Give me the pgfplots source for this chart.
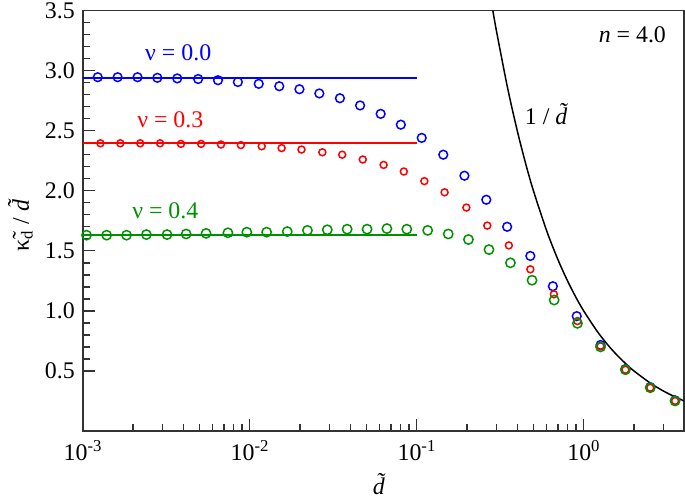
\documentclass[border=0pt]{standalone}
\usepackage{fontspec}
\setmainfont{Liberation Serif}
\usepackage{pgfplots}
\pgfplotsset{compat=1.18}
\usepackage{pgfplotstable}

\definecolor{ggreen}{RGB}{0,145,0}
\newcommand\lbl{\fontsize{24}{27}\selectfont}

% nu = 0.0
\pgfplotstableread{
x y
0.001228 2.945
0.001616 2.945
0.002126 2.945
0.002795 2.940
0.003676 2.935
0.004904 2.930
0.006449 2.920
0.008484 2.905
0.01131 2.890
0.01502 2.870
0.01984 2.845
0.02610 2.810
0.03466 2.770
0.04578 2.710
0.06080 2.640
0.08030 2.550
0.1071 2.440
0.1442 2.300
0.1931 2.125
0.2610 1.925
0.3480 1.700
0.4791 1.457
0.6538 1.205
0.9085 0.956
1.262 0.716
1.778 0.515
2.505 0.365
3.528 0.255
}\nuzero

% nu = 0.3
\pgfplotstableread{
x y
0.001275 2.395
0.001677 2.395
0.002206 2.395
0.002901 2.395
0.003869 2.390
0.005109 2.390
0.006720 2.385
0.008841 2.380
0.01179 2.370
0.01551 2.355
0.02040 2.343
0.02720 2.320
0.03578 2.300
0.04751 2.260
0.06333 2.215
0.08370 2.160
0.1111 2.080
0.1468 1.987
0.1984 1.860
0.2646 1.710
0.3562 1.545
0.4791 1.346
0.6628 1.138
0.9173 0.915
1.262 0.705
1.778 0.510
2.505 0.360
3.528 0.250
}\nuthree

% nu = 0.4
\pgfplotstableread{
x y
0.001052 1.630
0.001389 1.630
0.001827 1.630
0.002404 1.635
0.003193 1.635
0.004159 1.640
0.005470 1.645
0.007396 1.650
0.009597 1.655
0.01262 1.655
0.01677 1.660
0.02215 1.670
0.02912 1.675
0.03831 1.680
0.05040 1.680
0.06628 1.685
0.08718 1.680
0.1163 1.670
0.1544 1.640
0.2040 1.594
0.2708 1.510
0.3641 1.400
0.4904 1.255
0.6655 1.090
0.9173 0.896
1.262 0.700
1.778 0.510
2.505 0.360
3.528 0.250
}\nufour

% 1/d
\pgfplotstableread{
x y
0.2857 3.500
0.30 3.333
0.35 2.857
0.40 2.500
0.45 2.222
0.50 2.000
0.60 1.667
0.70 1.429
0.80 1.250
0.90 1.111
1.00 1.000
1.20 0.833
1.40 0.714
1.60 0.625
1.80 0.556
2.00 0.500
2.50 0.400
3.00 0.333
3.50 0.286
4.00 0.250
}\inv

\begin{document}
\lbl
\begin{tikzpicture}
\begin{axis}[
  width=605pt, height=423pt, scale only axis,
  xmode=log, xmin=1e-3, xmax=4,
  ymin=0, ymax=3.5,
  axis line style={line width=1.6pt, black!80},
  tick pos=left, tick align=inside,
  major tick length=12pt, minor tick length=7pt,
  every tick/.style={line width=1.4pt, black!80},
  xtick={0.001,0.01,0.1,1},
  xticklabels={10\textsuperscript{-3},10\textsuperscript{-2},10\textsuperscript{-1},10\textsuperscript{0}},
  minor xtick={0.002,0.003,0.004,0.005,0.006,0.007,0.008,0.009,
    0.02,0.03,0.04,0.05,0.06,0.07,0.08,0.09,
    0.2,0.3,0.4,0.5,0.6,0.7,0.8,0.9,2,3,4},
  ytick={0.5,1,1.5,2,2.5,3,3.5},
  minor y tick num=4,
  ticklabel style={font=\lbl},
  yticklabel style={inner ysep=2.5pt, /pgf/number format/.cd, fixed, fixed zerofill, precision=1, assume math mode=true},
  xticklabel style={yshift=-1pt},
  xlabel={\textit{\~{d}}},
  ylabel={\~{κ}\textsubscript{d} / \textit{\~{d}}},
  label style={font=\lbl},
  xlabel style={yshift=3pt},
  ylabel style={yshift=-4pt},
  clip=true,
]
\addplot[only marks, mark=o, mark size=4.4pt, blue, mark options={line width=1.5pt}] table {\nuzero};
\addplot[only marks, mark=o, mark size=3.5pt, red, mark options={line width=1.5pt}] table {\nuthree};
\addplot[only marks, mark=o, mark size=4.7pt, ggreen, mark options={line width=1.5pt}] table {\nufour};

\addplot[draw=blue, line width=1.8pt] coordinates {(0.001,2.94) (0.1,2.94)};
\addplot[draw=red, line width=1.8pt] coordinates {(0.001,2.395) (0.1,2.395)};
\addplot[draw=ggreen, line width=1.8pt] coordinates {(0.001,1.63) (0.1,1.63)};

\addplot[black, line width=1.5pt, smooth] table {\inv};

\node[text=blue, font=\lbl] at (axis cs:0.003727,3.149) {ν = 0.0};
\node[text=red, font=\lbl] at (axis cs:0.003341,2.594) {ν = 0.3};
\node[text=ggreen, font=\lbl] at (axis cs:0.003119,1.834) {ν = 0.4};
\node[font=\lbl] at (axis cs:1.957,3.298) {\textit{n} = 4.0};
\node[font=\lbl] at (axis cs:0.636,2.635) {1 / \textit{\~{d}}};
\end{axis}
\end{tikzpicture}
\end{document}
